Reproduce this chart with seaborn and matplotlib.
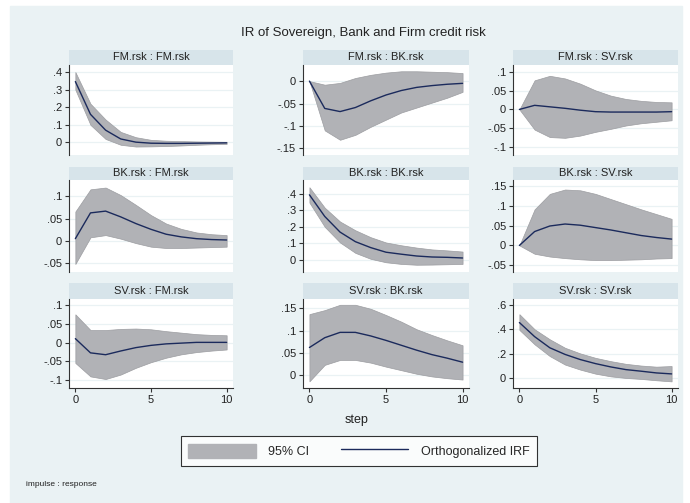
import matplotlib
matplotlib.use('Agg')
import matplotlib.pyplot as plt
import seaborn as sns
import pandas as pd
from matplotlib.patches import Rectangle, Patch
from matplotlib.lines import Line2D
from matplotlib.ticker import FuncFormatter

# Stata-like look
sns.set_theme(style='white')
plt.rcParams['font.family'] = ['Liberation Sans', 'DejaVu Sans']

steps = list(range(11))

# impulse : response values (irf, lower, upper)
fm_fm_irf = [0.346, 0.16, 0.07, 0.02, 0.002, -0.004, -0.005, -0.005, -0.004, -0.003, -0.002]
fm_fm_lo = [0.30, 0.10, 0.02, -0.013, -0.023, -0.022, -0.02, -0.017, -0.013, -0.01, -0.008]
fm_fm_hi = [0.40, 0.22, 0.13, 0.06, 0.03, 0.015, 0.01, 0.008, 0.006, 0.005, 0.004]

fm_bk_irf = [0.0, -0.061, -0.068, -0.059, -0.044, -0.031, -0.021, -0.014, -0.01, -0.007, -0.005]
fm_bk_lo = [0.0, -0.11, -0.131, -0.12, -0.102, -0.086, -0.07, -0.059, -0.048, -0.037, -0.024]
fm_bk_hi = [0.0, -0.008, -0.004, 0.007, 0.014, 0.019, 0.022, 0.022, 0.021, 0.02, 0.018]

fm_sv_irf = [0.0, 0.011, 0.007, 0.003, -0.002, -0.006, -0.007, -0.007, -0.007, -0.007, -0.006]
fm_sv_lo = [0.0, -0.054, -0.074, -0.076, -0.07, -0.06, -0.052, -0.043, -0.037, -0.033, -0.029]
fm_sv_hi = [0.0, 0.078, 0.09, 0.083, 0.069, 0.051, 0.037, 0.028, 0.023, 0.02, 0.019]

bk_fm_irf = [0.005, 0.063, 0.067, 0.054, 0.039, 0.026, 0.015, 0.009, 0.005, 0.003, 0.002]
bk_fm_lo = [-0.052, 0.008, 0.013, 0.005, -0.005, -0.013, -0.016, -0.016, -0.015, -0.014, -0.013]
bk_fm_hi = [0.066, 0.116, 0.12, 0.103, 0.081, 0.058, 0.039, 0.027, 0.019, 0.015, 0.013]

bk_bk_irf = [0.394, 0.263, 0.168, 0.11, 0.074, 0.046, 0.034, 0.023, 0.017, 0.015, 0.011]
bk_bk_lo = [0.347, 0.2, 0.105, 0.042, 0.006, -0.015, -0.025, -0.03, -0.029, -0.027, -0.025]
bk_bk_hi = [0.44, 0.316, 0.232, 0.179, 0.137, 0.105, 0.088, 0.074, 0.063, 0.057, 0.05]

bk_sv_irf = [0.0, 0.035, 0.049, 0.054, 0.051, 0.045, 0.039, 0.032, 0.025, 0.02, 0.016]
bk_sv_lo = [0.0, -0.021, -0.028, -0.032, -0.035, -0.037, -0.037, -0.036, -0.035, -0.033, -0.032]
bk_sv_hi = [0.0, 0.091, 0.13, 0.141, 0.139, 0.13, 0.117, 0.104, 0.091, 0.079, 0.067]

sv_fm_irf = [0.011, -0.027, -0.032, -0.022, -0.013, -0.007, -0.003, -0.001, 0.001, 0.001, 0.001]
sv_fm_lo = [-0.054, -0.09, -0.097, -0.085, -0.067, -0.052, -0.04, -0.031, -0.025, -0.021, -0.018]
sv_fm_hi = [0.076, 0.034, 0.034, 0.037, 0.038, 0.036, 0.031, 0.027, 0.023, 0.021, 0.02]

sv_bk_irf = [0.062, 0.084, 0.096, 0.096, 0.088, 0.078, 0.067, 0.056, 0.046, 0.038, 0.029]
sv_bk_lo = [-0.014, 0.023, 0.034, 0.034, 0.028, 0.019, 0.011, 0.003, -0.003, -0.007, -0.01]
sv_bk_hi = [0.137, 0.146, 0.158, 0.158, 0.149, 0.135, 0.12, 0.103, 0.09, 0.078, 0.067]

sv_sv_irf = [0.455, 0.34, 0.249, 0.195, 0.153, 0.12, 0.093, 0.071, 0.058, 0.044, 0.036]
sv_sv_lo = [0.395, 0.277, 0.181, 0.112, 0.071, 0.038, 0.016, 0.003, -0.005, -0.016, -0.025]
sv_sv_hi = [0.523, 0.4, 0.318, 0.249, 0.203, 0.167, 0.14, 0.118, 0.104, 0.095, 0.1]

panel_titles = ['FM.rsk : FM.rsk', 'FM.rsk : BK.rsk', 'FM.rsk : SV.rsk',
                'BK.rsk : FM.rsk', 'BK.rsk : BK.rsk', 'BK.rsk : SV.rsk',
                'SV.rsk : FM.rsk', 'SV.rsk : BK.rsk', 'SV.rsk : SV.rsk']
irfs = [fm_fm_irf, fm_bk_irf, fm_sv_irf, bk_fm_irf, bk_bk_irf, bk_sv_irf, sv_fm_irf, sv_bk_irf, sv_sv_irf]
lows = [fm_fm_lo, fm_bk_lo, fm_sv_lo, bk_fm_lo, bk_bk_lo, bk_sv_lo, sv_fm_lo, sv_bk_lo, sv_sv_lo]
highs = [fm_fm_hi, fm_bk_hi, fm_sv_hi, bk_fm_hi, bk_bk_hi, bk_sv_hi, sv_fm_hi, sv_bk_hi, sv_sv_hi]
yticks = [[0, .1, .2, .3, .4], [-.15, -.1, -.05, 0], [-.1, -.05, 0, .05, .1],
          [-.05, 0, .05, .1], [0, .1, .2, .3, .4], [-.05, 0, .05, .1, .15],
          [-.1, -.05, 0, .05, .1], [0, .05, .1, .15], [0, .2, .4, .6]]
ylims = [(-0.071, 0.44), (-0.165, 0.036), (-0.122, 0.119),
         (-0.07, 0.137), (-0.074, 0.484), (-0.067, 0.165),
         (-0.121, 0.117), (-0.029, 0.171), (-0.079, 0.647)]

BG = '#eaf2f4'
STRIP = '#d7e4ea'
CI = '#b1b2b6'
NAVY = '#1b2a5c'
W, H = 690, 503


def stata_fmt(v, pos):
    s = f'{v:g}'
    if s.startswith('0.'):
        s = s[1:]
    elif s.startswith('-0.'):
        s = '-' + s[2:]
    return s


def frect(x0, y0, x1, y1):
    # pixel box (top-left origin) -> figure fraction
    return [x0 / W, 1 - y1 / H, (x1 - x0) / W, (y1 - y0) / H]


fig = plt.figure(figsize=(6.9, 5.03), dpi=100)
fig.patch.set_facecolor('white')
fig.patches.append(Rectangle((10 / W, 0), (682 - 10) / W, (H - 6) / H,
                             transform=fig.transFigure, color=BG, zorder=-10))

col_x = [(69, 233), (303, 469), (513, 678)]
row_y = [(50, 65, 155), (167, 180, 272), (283, 299, 388)]

for i in range(9):
    r, c = divmod(i, 3)
    x0, x1 = col_x[c]
    s0, a0, a1 = row_y[r]

    sax = fig.add_axes(frect(x0, s0, x1, a0))
    sax.set_facecolor(STRIP)
    sax.set_xticks([])
    sax.set_yticks([])
    for sp in sax.spines.values():
        sp.set_visible(False)
    sax.text(0.5, 0.5, panel_titles[i], ha='center', va='center', fontsize=8, color='#222222',
             transform=sax.transAxes)

    ax = fig.add_axes(frect(x0, a0, x1, a1))
    ax.set_facecolor('white')
    df = pd.DataFrame({'step': steps, 'irf': irfs[i], 'lo': lows[i], 'hi': highs[i]})
    ax.fill_between(df['step'], df['lo'], df['hi'], color=CI, edgecolor='#9c9da1', linewidth=0.5, zorder=2)
    sns.lineplot(data=df, x='step', y='irf', ax=ax, color=NAVY, linewidth=1.0, zorder=3)

    ax.set_xlim(-0.42, 10.42)
    ax.set_ylim(*ylims[i])
    ax.set_yticks(yticks[i])
    ax.yaxis.set_major_formatter(FuncFormatter(stata_fmt))
    ax.grid(axis='y', color=BG, linewidth=0.9, zorder=0)
    ax.grid(axis='x', visible=False)
    ax.set_xlabel('')
    ax.set_ylabel('')
    for sp in ['top', 'right']:
        ax.spines[sp].set_visible(False)
    ax.spines['left'].set_color('#333333')
    ax.spines['left'].set_linewidth(0.8)
    ax.tick_params(axis='y', left=True, length=3, width=0.8, color='#333333',
                   labelsize=8, labelcolor='#222222', pad=2)
    if r == 2:
        ax.spines['bottom'].set_color('#333333')
        ax.spines['bottom'].set_linewidth(0.8)
        ax.set_xticks([0, 5, 10])
        ax.tick_params(axis='x', bottom=True, length=3, width=0.8, color='#333333',
                       labelsize=8, labelcolor='#222222', pad=2)
    else:
        ax.spines['bottom'].set_visible(False)
        ax.set_xticks([])

fig.text(363 / W, 1 - 33 / H, 'IR of Sovereign, Bank and Firm credit risk', ha='center', va='center',
         fontsize=9.5, color='#222222')
fig.text(357 / W, 1 - 420 / H, 'step', ha='center', va='center', fontsize=9, color='#222222')
fig.text(26 / W, 1 - 484 / H, 'impulse : response', ha='left', va='center', fontsize=6, color='#222222')

handles = [Patch(facecolor=CI, edgecolor=CI), Line2D([0], [0], color=NAVY, linewidth=1.0)]
leg = fig.legend(handles, ['95% CI', 'Orthogonalized IRF'], loc='center',
                 bbox_to_anchor=(359 / W, 1 - 451 / H), ncol=2, fontsize=9,
                 frameon=True, fancybox=False, handlelength=5.4, handleheight=1.4,
                 handletextpad=1.0, columnspacing=2.5, borderpad=0.6)
leg.get_frame().set_edgecolor('black')
leg.get_frame().set_linewidth(0.8)
leg.get_frame().set_facecolor('white')

fig.savefig('out.png', dpi=100, facecolor=fig.get_facecolor())
